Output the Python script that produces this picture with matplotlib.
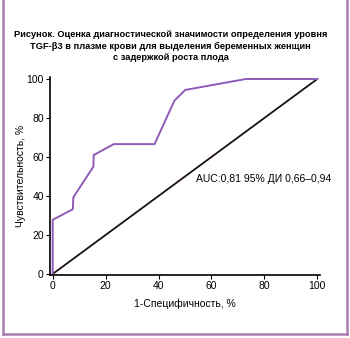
"""ROC curve for TGF-beta3 plasma level, fetal growth restriction."""

import matplotlib.pyplot as plt

plt.rcParams['font.family'] = ['Liberation Sans', 'DejaVu Sans']

# ROC points, %
fpr = [0, 0, 7.6, 7.8, 15.4, 15.5, 23.1, 38.5, 46.0, 50.1, 73.0, 100]
tpr = [0, 27.8, 33.2, 39.3, 55.1, 61.0, 66.6, 66.6, 88.9, 94.4, 100, 100]
ref_line = [0, 100]
ticks = [0, 20, 40, 60, 80, 100]

title = ('Рисунок. Оценка диагностической значимости определения уровня\n'
         'TGF-β3 в плазме крови для выделения беременных женщин\n'
         'с задержкой роста плода')
auc_text = 'AUC:0,81 95% ДИ 0,66–0,94'

fig = plt.figure(figsize=(3.5, 3.38), dpi=100)
ax = fig.add_axes([0.143, 0.186, 0.771, 0.586])

ax.plot(ref_line, ref_line, color='#1a1010', lw=1.3)
ax.plot(fpr, tpr, color='#8e5cb8', lw=1.4)

ax.set_xlim(-1, 101)
ax.set_ylim(-0.6, 101)
ax.set_xticks(ticks)
ax.set_yticks(ticks)
ax.tick_params(labelsize=7.5, length=3, width=0.8, pad=1.5)
for side in ('top', 'right'):
    ax.spines[side].set_visible(False)
for side in ('left', 'bottom'):
    ax.spines[side].set_linewidth(1.2)

ax.set_xlabel('1-Специфичность, %', fontsize=7.5, labelpad=5)
ax.set_ylabel('Чувствительность, %', fontsize=7.5, labelpad=0)
ax.text(54.3, 48.5, auc_text, fontsize=7.5, va='center', ha='left')

fig.text(0.487, 0.864, title, ha='center', va='center', fontsize=6.7,
         fontweight='bold', linespacing=1.3,
         family=['Liberation Sans Narrow', 'Liberation Sans', 'DejaVu Sans'])

# mauve frame: left, bottom and right sides
frame_color = '#a97fae'
for xs, ys in [([0.0086, 0.0086], [0.012, 1.0]),
               ([0.0086, 0.991], [0.012, 0.012]),
               ([0.991, 0.991], [0.012, 1.0])]:
    fig.add_artist(plt.Line2D(xs, ys, color=frame_color, lw=1.8,
                              transform=fig.transFigure))

fig.savefig('out.png', dpi=100)
